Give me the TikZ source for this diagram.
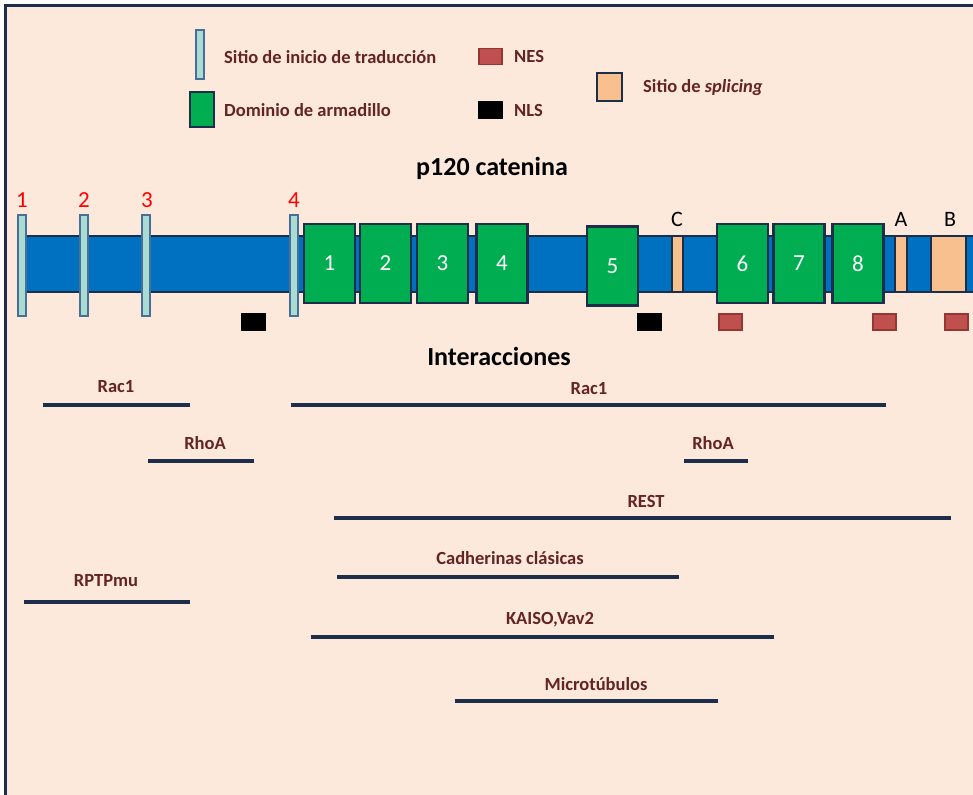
\documentclass[tikz,border=0pt]{standalone}
\usepackage{fontspec}
\setmainfont{Carlito}
\usepackage{tikz}
\definecolor{hexcolor0xfce9db}{RGB}{252,233,219}
\definecolor{hexcolor0x1c2e4a}{RGB}{28,46,74}
\definecolor{hexcolor0x0070c0}{RGB}{0,112,192}
\definecolor{hexcolor0x00ad50}{RGB}{0,173,80}
\definecolor{hexcolor0xa9ddd3}{RGB}{169,221,211}
\definecolor{hexcolor0x4a6f96}{RGB}{74,111,150}
\definecolor{hexcolor0xf9c08f}{RGB}{249,192,143}
\definecolor{hexcolor0xc0504d}{RGB}{192,80,77}
\definecolor{hexcolor0x943634}{RGB}{148,54,52}
\definecolor{hexcolor0x632423}{RGB}{99,36,35}
\definecolor{myblack}{rgb}{0.000,0.000,0.000}
\definecolor{mywhite}{rgb}{1.000,1.000,1.000}
\definecolor{myred}{rgb}{1.000,0.000,0.000}
\tikzstyle{site}=[rectangle,fill=hexcolor0xa9ddd3,draw=hexcolor0x4a6f96,line width=2pt,minimum width=8pt,minimum height=100pt,inner sep=0pt]
\tikzstyle{arm}=[rectangle,fill=hexcolor0x00ad50,draw=hexcolor0x1c2e4a,line width=2.5pt,minimum width=51pt,minimum height=79pt,inner sep=0pt,text=mywhite,font=\fontsize{23}{27}\selectfont]
\tikzstyle{splice}=[rectangle,fill=hexcolor0xf9c08f,draw=hexcolor0x1c2e4a,line width=2pt,minimum height=56pt,inner sep=0pt]
\tikzstyle{nes}=[rectangle,fill=hexcolor0xc0504d,draw=hexcolor0x943634,line width=1.5pt,minimum width=23pt,minimum height=16pt,inner sep=0pt]
\tikzstyle{nls}=[rectangle,fill=myblack,draw=myblack,minimum width=24pt,minimum height=17pt,inner sep=0pt]
\tikzstyle{lab}=[text=hexcolor0x632423,font=\bfseries\fontsize{18.5}{22}\selectfont,inner sep=0pt]
\tikzstyle{head}=[text=myblack,font=\bfseries\fontsize{26}{30}\selectfont,inner sep=0pt]
\tikzstyle{num}=[text=myred,font=\fontsize{23}{27}\selectfont,inner sep=0pt]
\tikzstyle{letter}=[text=myblack,font=\fontsize{22}{26}\selectfont,inner sep=0pt]
\tikzstyle{link}=[draw=hexcolor0x1c2e4a,line width=4pt]

\begin{document}
\begin{tikzpicture}[x=1pt,y=-1pt]
	\useasboundingbox (0,0) rectangle (973,794);
	\clip (0,0) rectangle (973,794);
	\fill [hexcolor0xfce9db] (5.5,6) rectangle (995,815);
	\draw [draw=hexcolor0x1c2e4a,line width=3pt] (5.5,6) rectangle (995,815);

	% legend
		\node [style=site,minimum height=49pt] (l0) at (200,54.5) {};
		\node [style=lab,anchor=west] (l1) at (224,57) {Sitio de inicio de traducción};
		\node [style=arm,minimum width=24pt,minimum height=35pt] (l2) at (202,109.5) {};
		\node [style=lab,anchor=west] (l3) at (224,110) {Dominio de armadillo};
		\node [style=nes] (l4) at (490.5,56.5) {};
		\node [style=lab,anchor=west] (l5) at (514,57) {NES};
		\node [style=nls] (l6) at (490.5,110) {};
		\node [style=lab,anchor=west] (l7) at (514,110) {NLS};
		\node [style=splice,minimum width=25pt,minimum height=28pt] (l8) at (609.5,87) {};
		\node [style=lab,anchor=west] (l9) at (643,88) {Sitio de \textit{splicing}};

	% protein
		\node [style=head] (t0) at (492,168) {p120 catenina};
		\draw [fill=hexcolor0x0070c0,draw=hexcolor0x1c2e4a,line width=2.5pt] (22,236) rectangle (990,292);
		\node [style=splice,minimum width=11pt] (C) at (677,264) {};
		\node [style=splice,minimum width=12pt] (A) at (900.5,264) {};
		\node [style=splice,minimum width=35pt] (B) at (948,264) {};
		\node [style=site] (s1) at (22,265.5) {};
		\node [style=site] (s2) at (84,265.5) {};
		\node [style=site] (s3) at (146,265.5) {};
		\node [style=site] (s4) at (294,265.5) {};
		\node [style=num] (n1) at (22,200) {1};
		\node [style=num] (n2) at (84,200) {2};
		\node [style=num] (n3) at (147,200) {3};
		\node [style=num] (n4) at (294,200) {4};
		\node [style=letter] (tC) at (677,219) {C};
		\node [style=letter] (tA) at (901,219) {A};
		\node [style=letter] (tB) at (950,219) {B};
		\node [style=arm] (a1) at (329.5,263.5) {1};
		\node [style=arm] (a2) at (385.5,263.5) {2};
		\node [style=arm] (a3) at (442.5,263.5) {3};
		\node [style=arm] (a4) at (502,263.5) {4};
		\node [style=arm] (a5) at (612.5,266) {5};
		\node [style=arm] (a6) at (742.5,263.5) {6};
		\node [style=arm] (a7) at (799,263.5) {7};
		\node [style=arm] (a8) at (858,263.5) {8};
		\node [style=nls] (k1) at (253,322) {};
		\node [style=nls] (k2) at (649.5,322) {};
		\node [style=nes] (e1) at (730.5,322) {};
		\node [style=nes] (e2) at (884.5,322) {};
		\node [style=nes] (e3) at (956.5,322) {};

	% interactions
		\node [style=head] (t1) at (499,356) {Interacciones};
		\node [style=lab] (i1) at (116,387) {Rac1};
		\coordinate (i1a) at (43,405);
		\coordinate (i1b) at (190,405);
		\node [style=lab] (i2) at (589,389) {Rac1};
		\coordinate (i2a) at (291,405);
		\coordinate (i2b) at (886,405);
		\node [style=lab] (i3) at (205,443) {RhoA};
		\coordinate (i3a) at (148,461);
		\coordinate (i3b) at (254,461);
		\node [style=lab] (i4) at (713,443) {RhoA};
		\coordinate (i4a) at (684,461);
		\coordinate (i4b) at (748,461);
		\node [style=lab] (i5) at (646,501) {REST};
		\coordinate (i5a) at (334,518);
		\coordinate (i5b) at (951,518);
		\node [style=lab] (i6) at (510,558) {Cadherinas clásicas};
		\coordinate (i6a) at (337,577);
		\coordinate (i6b) at (679,577);
		\node [style=lab] (i7) at (106,581) {RPTPmu};
		\coordinate (i7a) at (24,602);
		\coordinate (i7b) at (190,602);
		\node [style=lab] (i8) at (550,620) {KAISO,Vav2};
		\coordinate (i8a) at (311,637);
		\coordinate (i8b) at (774,637);
		\node [style=lab] (i9) at (596,684) {Microtúbulos};
		\coordinate (i9a) at (455,701);
		\coordinate (i9b) at (718,701);
		\foreach \i in {1,...,9}
			\draw [style=link] (i\i a) -- (i\i b);

\end{tikzpicture}
\end{document}
